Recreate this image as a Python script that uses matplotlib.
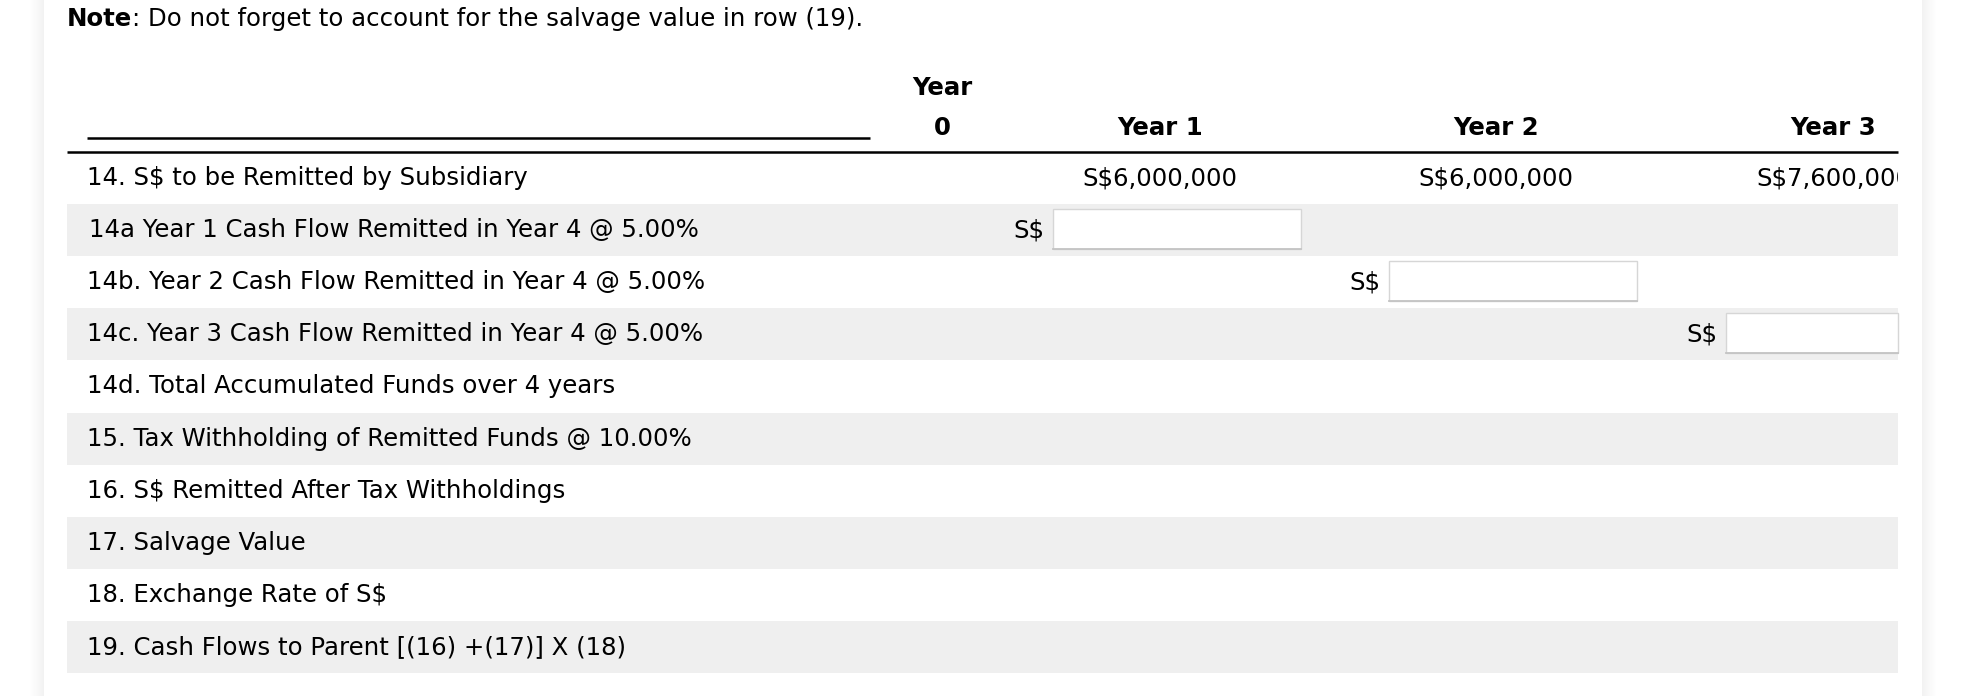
import matplotlib
matplotlib.use("Agg")
import matplotlib.pyplot as plt
from matplotlib.patches import Rectangle
import numpy as np

# contenido de la tabla
row_labels = [
    "14. S$ to be Remitted by Subsidiary",
    "14a Year 1 Cash Flow Remitted in Year 4 @ 5.00%",
    "14b. Year 2 Cash Flow Remitted in Year 4 @ 5.00%",
    "14c. Year 3 Cash Flow Remitted in Year 4 @ 5.00%",
    "14d. Total Accumulated Funds over 4 years",
    "15. Tax Withholding of Remitted Funds @ 10.00%",
    "16. S$ Remitted After Tax Withholdings",
    "17. Salvage Value",
    "18. Exchange Rate of S$",
    "19. Cash Flows to Parent [(16) +(17)] X (18)",
]
year_headers = ["Year\n0", "Year 1", "Year 2", "Year 3"]
remitted = ["", "S$6,000,000", "S$6,000,000", "S$7,600,000"]
input_rows = [1, 2, 3]      # filas con casilla de entrada
input_years = [1, 2, 3]     # columna de cada casilla
note_bold = "Note"
note_rest = ": Do not forget to account for the salvage value in row (19)."

W, H = 1975, 696
fig = plt.figure(figsize=(W / 100, H / 100), dpi=100)
ax = fig.add_axes([0, 0, 1, 1])
ax.set_xlim(0, W)
ax.set_ylim(H, 0)
ax.axis("off")

fs = 17.6
fam = "DejaVu Sans"

# sombra de la pagina
page_l, page_r = 44, 1922
for i in range(14):
    a = 0.05 * (1 - i / 14)
    ax.add_patch(Rectangle((page_l - i - 1, 0), 1, H, color="k", alpha=a, lw=0))
    ax.add_patch(Rectangle((page_r + i, 0), 1, H, color="k", alpha=a, lw=0))

# nota
t = ax.text(67, 19, note_bold, fontsize=fs, fontweight="bold", family=fam, va="center", ha="left")
fig.canvas.draw()
bb = t.get_window_extent()
x_end = ax.transData.inverted().transform((bb.x1, 0))[0]
ax.text(x_end, 19, note_rest, fontsize=fs, family=fam, va="center", ha="left")

# geometria
tab_l, tab_r = 67, 1898
top = 152
rh = 52.1
col_x = [942, 1160, 1496, 1833]
box_l = [None, 1053, 1389, 1726]
box_w = 248

# filas sombreadas
for i, lab in enumerate(row_labels):
    y0 = top + i * rh
    if i % 2 == 1:
        ax.add_patch(Rectangle((tab_l, y0), tab_r - tab_l, rh, color="#efefef", lw=0))
    ax.text(87 if i != 1 else 89, y0 + rh / 2, lab, fontsize=fs, family=fam, va="center", ha="left")

# encabezados
ax.text(col_x[0], 88, "Year", fontsize=fs, fontweight="bold", family=fam, ha="center", va="center")
ax.text(col_x[0], 128, "0", fontsize=fs, fontweight="bold", family=fam, ha="center", va="center")
for j in range(1, 4):
    ax.text(col_x[j], 128, year_headers[j], fontsize=fs, fontweight="bold", family=fam,
            ha="center", va="center")

ax.plot([87, 870], [138, 138], color="k", lw=1.8, solid_capstyle="butt")
ax.plot([tab_l, tab_r], [top, top], color="k", lw=1.8, solid_capstyle="butt")

# valores de la fila 14 (el ultimo queda cortado en el borde de la tabla)
clip = Rectangle((0, 0), tab_r, H, transform=ax.transData)
for j in range(1, 4):
    if j < 3:
        ax.text(col_x[j], top + rh / 2, remitted[j], fontsize=fs, family=fam, ha="center", va="center")
    else:
        tv = ax.text(1756, top + rh / 2, remitted[j], fontsize=fs, family=fam, ha="left", va="center",
                     clip_on=True)
        tv.set_clip_path(clip)

# casillas de entrada
for r, c in zip(input_rows, input_years):
    y0 = top + r * rh
    bl = box_l[c]
    bw = min(box_w, tab_r - bl)
    ax.add_patch(Rectangle((bl, y0 + 5), bw, rh - 12, facecolor="white", edgecolor="#d6d6d6", lw=1))
    ax.plot([bl, bl + bw], [y0 + rh - 7, y0 + rh - 7], color="#c4c4c4", lw=1.3)
    ax.text(bl - 9, y0 + rh / 2, "S$", fontsize=fs, family=fam, ha="right", va="center")

fig.savefig("out.png", dpi=100)
